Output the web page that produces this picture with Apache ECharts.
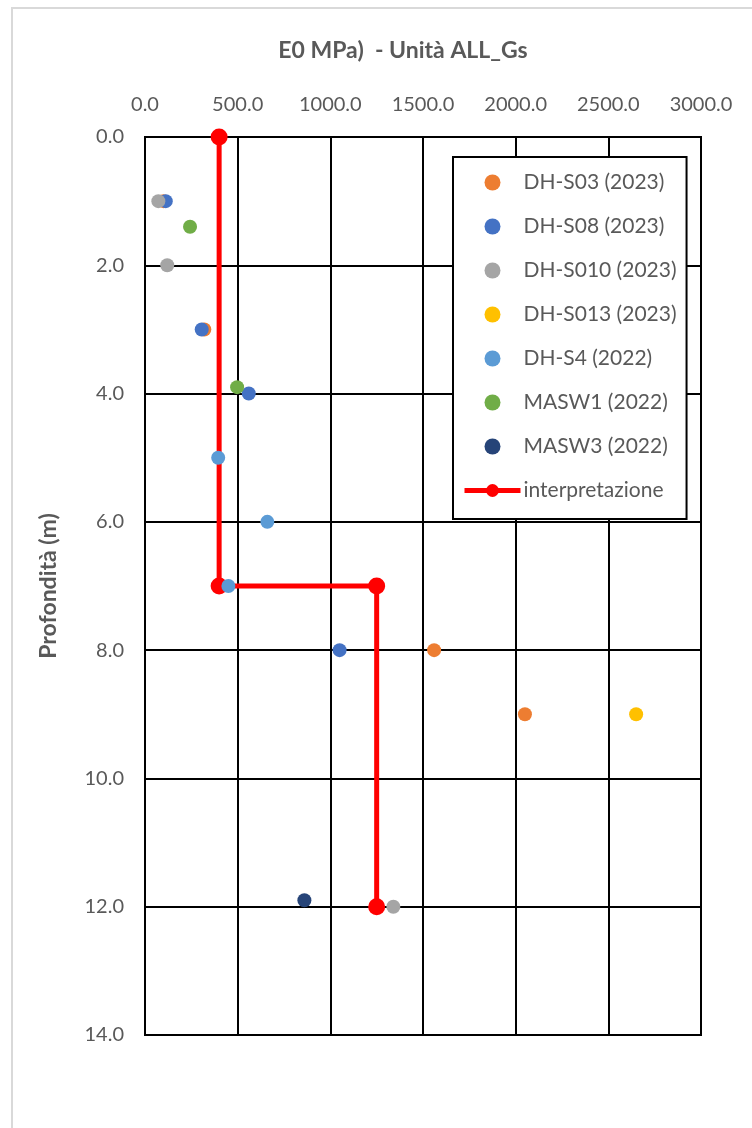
<!DOCTYPE html>
<html>
<head>
<meta charset="utf-8">
<script src="https://cdn.jsdelivr.net/npm/echarts@6/dist/echarts.min.js"></script>
<style>
html,body{margin:0;padding:0;background:#fff;}
#frame{position:absolute;left:11px;top:7px;width:800px;height:1200px;border-left:2px solid #d9d9d9;border-top:2px solid #d9d9d9;}
#chart{position:absolute;left:0;top:0;width:752px;height:1128px;}
</style>
</head>
<body>
<div id="frame"></div>
<div id="chart"></div>
<script>
// ---- data ----
const titleText = 'E0 MPa)  - Unità ALL_Gs';
const yAxisName = 'Profondità (m)';
const xTicks = { min: 0, max: 3000, interval: 500 };
const yTicks = { min: 0, max: 14, interval: 2 };

const dhS03 = [[100, 1], [320, 3], [1560, 8], [2050, 9]];
const dhS08 = [[112, 1], [306, 3], [560, 4], [1050, 8]];
const dhS010 = [[72, 1], [120, 2], [1340, 12]];
const dhS013 = [[2650, 9]];
const dhS4 = [[395, 5], [660, 6], [450, 7]];
const masw1 = [[243, 1.4], [497, 3.9]];
const masw3 = [[860, 11.9]];
const interpretazione = [[400, 0], [400, 7], [1250, 7], [1250, 12]];

const seriesNames = ['DH-S03 (2023)', 'DH-S08 (2023)', 'DH-S010 (2023)', 'DH-S013 (2023)', 'DH-S4 (2022)', 'MASW1 (2022)', 'MASW3 (2022)', 'interpretazione'];
const seriesColors = ['#ED7D31', '#4472C4', '#A5A5A5', '#FFC000', '#5B9BD5', '#70AD47', '#264478', '#FF0000'];
const scatterData = [dhS03, dhS08, dhS010, dhS013, dhS4, masw1, masw3];

const FONT = 'Lato, "Open Sans", sans-serif';
const TXT = '#595959';

const series = [];
series.push({
  name: seriesNames[7], type: 'line', data: interpretazione, z: 2,
  symbol: 'circle', symbolSize: 17,
  lineStyle: { color: seriesColors[7], width: 5 },
  itemStyle: { color: seriesColors[7] }
});
scatterData.forEach((d, i) => {
  series.push({
    name: seriesNames[i], type: 'scatter', data: d, z: 3 + i,
    symbol: 'circle', symbolSize: 14,
    itemStyle: { color: seriesColors[i], opacity: 1 }
  });
});

const legendData = seriesNames.map((n, i) => i === 7
  ? { name: n, lineStyle: { width: 5, color: seriesColors[7] }, itemStyle: { color: seriesColors[7] } }
  : { name: n });

const chart = echarts.init(document.getElementById('chart'), null, { renderer: 'canvas' });
chart.setOption({
  animation: false,
  backgroundColor: 'transparent',
  title: {
    text: titleText, left: 398, textAlign: 'center', top: 34,
    textStyle: { fontFamily: FONT, fontSize: 23, fontWeight: 'bold', color: TXT }
  },
  grid: { left: 145, top: 137, width: 556, height: 898, show: true, borderColor: '#000', borderWidth: 2, backgroundColor: '#fff' },
  xAxis: {
    type: 'value', position: 'top', min: xTicks.min, max: xTicks.max, interval: xTicks.interval,
    axisLine: { show: true, lineStyle: { color: '#000', width: 2 } },
    axisTick: { show: false },
    splitLine: { show: true, lineStyle: { color: '#000', width: 2 } },
    axisLabel: { margin: 22, fontFamily: FONT, fontSize: 20, color: TXT, formatter: v => v.toFixed(1) }
  },
  yAxis: {
    type: 'value', inverse: true, min: yTicks.min, max: yTicks.max, interval: yTicks.interval,
    name: yAxisName, nameLocation: 'middle', nameGap: 85, nameRotate: 90,
    nameTextStyle: { fontFamily: FONT, fontSize: 23, fontWeight: 'bold', color: TXT },
    axisLine: { show: true, lineStyle: { color: '#000', width: 2 } },
    axisTick: { show: false },
    splitLine: { show: true, lineStyle: { color: '#000', width: 2 } },
    axisLabel: { margin: 21, fontFamily: FONT, fontSize: 20, color: TXT, formatter: v => v.toFixed(1) }
  },
  legend: {
    orient: 'vertical', left: 453, top: 157,
    data: legendData,
    backgroundColor: '#fff', borderColor: '#000', borderWidth: 2,
    padding: [15, 10, 18, 9],
    itemWidth: 56, itemHeight: 16, itemGap: 23,
    textStyle: { fontFamily: FONT, fontSize: 21, color: TXT, padding: [0, 0, 0, -2] },
    z: 10
  },
  series: series
});
</script>
</body>
</html>
